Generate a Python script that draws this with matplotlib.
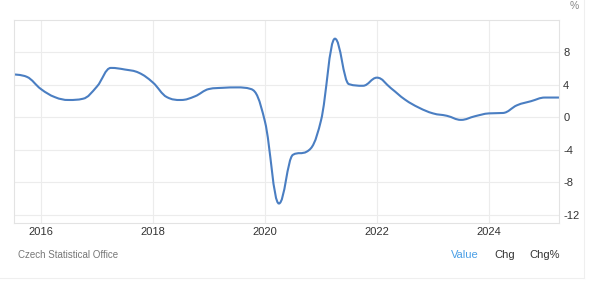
import matplotlib
matplotlib.use("Agg")
import matplotlib.pyplot as plt
from matplotlib.path import Path
from matplotlib.patches import PathPatch
from matplotlib.lines import Line2D

plt.rcParams['font.family'] = ['Liberation Sans', 'DejaVu Sans']

# quarterly GDP growth, position in decimal years
fechas = [2015.50, 2015.75, 2016.00, 2016.25, 2016.50, 2016.75, 2017.00, 2017.25,
          2017.50, 2017.75, 2018.00, 2018.25, 2018.50, 2018.75, 2019.00, 2019.25,
          2019.50, 2019.75, 2020.00, 2020.25, 2020.50, 2020.75, 2021.00, 2021.25,
          2021.50, 2021.75, 2022.00, 2022.25, 2022.50, 2022.75, 2023.00, 2023.25,
          2023.50, 2023.75, 2024.00, 2024.25, 2024.50, 2024.75, 2025.00, 2025.25]
valores = [5.3, 5.0, 3.5, 2.5, 2.15, 2.3, 3.8, 6.1,
           5.9, 5.5, 4.3, 2.5, 2.15, 2.6, 3.5, 3.65,
           3.7, 3.5, -0.5, -10.6, -4.6, -4.2, -0.4, 9.7,
           4.1, 3.9, 4.9, 3.6, 2.2, 1.2, 0.5, 0.2,
           -0.3, 0.15, 0.5, 0.55, 1.5, 2.0, 2.45, 2.45]

anios = [2016, 2018, 2020, 2022, 2024]
yticks = [-12, -8, -4, 0, 4, 8]
botones = ['Value', 'Chg', 'Chg%']


def curva_spline(xs, ys, suav=1.5):
    # same control points as a highcharts "spline" series
    n = len(xs)
    izq = [None] * n
    der = [None] * n
    for i in range(1, n - 1):
        px, py = xs[i], ys[i]
        lx, ly = xs[i - 1], ys[i - 1]
        nx, ny = xs[i + 1], ys[i + 1]
        d = suav + 1
        lcx, lcy = (suav * px + lx) / d, (suav * py + ly) / d
        rcx, rcy = (suav * px + nx) / d, (suav * py + ny) / d
        corr = (rcy - lcy) * (rcx - px) / (rcx - lcx) + py - rcy
        lcy += corr
        rcy += corr
        if lcy > ly and lcy > py:
            lcy = max(ly, py)
            rcy = 2 * py - lcy
        elif lcy < ly and lcy < py:
            lcy = min(ly, py)
            rcy = 2 * py - lcy
        if rcy > ny and rcy > py:
            rcy = max(ny, py)
            lcy = 2 * py - rcy
        elif rcy < ny and rcy < py:
            rcy = min(ny, py)
            lcy = 2 * py - rcy
        izq[i] = (lcx, lcy)
        der[i] = (rcx, rcy)
    verts = [(xs[0], ys[0])]
    codes = [Path.MOVETO]
    for i in range(1, n):
        c1 = der[i - 1] or (xs[i - 1], ys[i - 1])
        c2 = izq[i] or (xs[i], ys[i])
        verts += [c1, c2, (xs[i], ys[i])]
        codes += [Path.CURVE4] * 3
    return Path(verts, codes)


fig = plt.figure(figsize=(6.02, 2.82), dpi=100)
ax = fig.add_axes([14 / 602, 59 / 282, 545 / 602, 203 / 282])

ax.add_patch(PathPatch(curva_spline(fechas, valores), fill=False,
                       edgecolor='#4a7ec2', linewidth=1.5, capstyle='round'))

ax.set_xlim(2015.52, 2025.25)
ax.set_ylim(-13.0, 12.0)
ax.set_xticks(anios)
ax.set_xticklabels([str(a) for a in anios])
ax.set_yticks(yticks)
ax.set_yticklabels([str(v) for v in yticks])
ax.yaxis.tick_right()
ax.tick_params(length=0, labelsize=8, colors='#333333')
ax.tick_params(axis='x', pad=3)
ax.tick_params(axis='y', pad=3)
ax.grid(True, color='#ececec', linewidth=0.8)
ax.set_axisbelow(True)
for s in ax.spines.values():
    s.set_color('#e3e3e3')
    s.set_linewidth(0.8)

fig.text(570 / 602, 1 - 6 / 282, '%', fontsize=7.5, color='#888888',
         ha='left', va='center')
fig.text(18 / 602, 1 - 255 / 282, 'Czech Statistical Office', fontsize=7,
         color='#777777', ha='left', va='center')
pos_botones = [451, 494, 529]
colores = ['#4a9fe6', '#333333', '#333333']
for b, x, c in zip(botones, pos_botones, colores):
    fig.text(x / 602, 1 - 255 / 282, b, fontsize=8, color=c,
             ha='left', va='center')

# marco del widget
fig.add_artist(Line2D([584 / 602, 584 / 602], [1, 1 - 278 / 282],
                      color='#efefef', linewidth=0.8))
fig.add_artist(Line2D([0, 584 / 602], [1 - 278 / 282, 1 - 278 / 282],
                      color='#efefef', linewidth=0.8))

fig.savefig('out.png', dpi=100)
